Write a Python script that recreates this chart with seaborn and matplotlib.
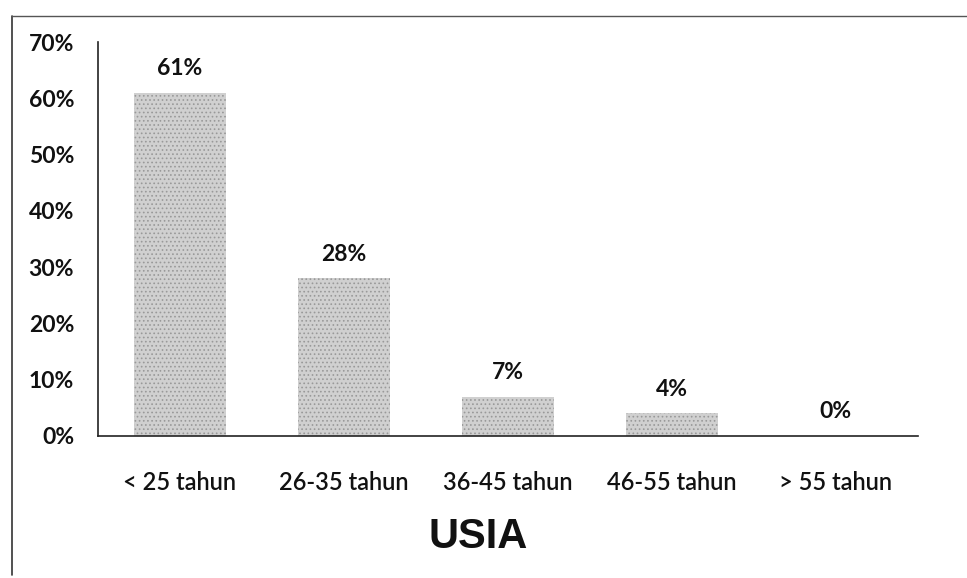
import matplotlib
matplotlib.use("Agg")
import matplotlib.pyplot as plt
import seaborn as sns
import pandas as pd
from matplotlib.lines import Line2D
from matplotlib.ticker import MultipleLocator, FuncFormatter

# Age groups and share of respondents (%)
categories = ["< 25 tahun", "26-35 tahun", "36-45 tahun", "46-55 tahun", "> 55 tahun"]
shares = [61, 28, 7, 4, 0]
value_labels = ["61%", "28%", "7%", "4%", "0%"]
axis_title = "USIA"

sns.set_theme(style="white")
plt.rcParams["font.family"] = ["Lato", "DejaVu Sans"]
plt.rcParams["hatch.linewidth"] = 0.7

df = pd.DataFrame({"kelompok": categories, "persen": shares})

fig = plt.figure(figsize=(9.67, 5.78), dpi=100)
ax = fig.add_axes([0.101, 0.2457, 0.848, 0.6816])

sns.barplot(data=df, x="kelompok", y="persen", ax=ax, color="#d0d0d0",
            width=0.56, edgecolor="#999999", linewidth=0, hatch="....",
            saturation=1)

ax.set_ylim(0, 70)
ax.set_xlim(-0.5, len(categories) - 0.5)
ax.yaxis.set_major_locator(MultipleLocator(10))
ax.yaxis.set_major_formatter(FuncFormatter(lambda v, _: f"{v:.0f}%"))
ax.set_xlabel("")
ax.set_ylabel("")

for side in ["top", "right"]:
    ax.spines[side].set_visible(False)
for side in ["left", "bottom"]:
    ax.spines[side].set_color("#222222")
    ax.spines[side].set_linewidth(1.2)

ax.tick_params(axis="y", length=0, pad=17, labelsize=16.5)
ax.tick_params(axis="x", length=0, pad=25, labelsize=17)
for t in ax.get_yticklabels():
    t.set_fontweight("bold")
    t.set_color("#111111")
for t in ax.get_xticklabels():
    t.set_fontweight(600)
    t.set_color("#111111")

# value labels above each bar
for i, (v, lab) in enumerate(zip(shares, value_labels)):
    ax.annotate(lab, xy=(i, v), xytext=(0, 10), textcoords="offset points",
                ha="center", va="bottom", fontsize=16.5, fontweight="bold",
                color="#111111")

fig.text(0.494, 0.071, axis_title, ha="center", va="center",
         fontsize=30, fontweight="bold", family="Liberation Sans", color="#111111")

# chart area frame (left and top edges)
fig.add_artist(Line2D([0.0124, 0.0124], [0.005, 0.972], transform=fig.transFigure,
                      color="#333333", linewidth=1.2))
fig.add_artist(Line2D([0.0124, 1.0], [0.972, 0.972], transform=fig.transFigure,
                      color="#555555", linewidth=1.0))

fig.savefig("out.png", dpi=100)
